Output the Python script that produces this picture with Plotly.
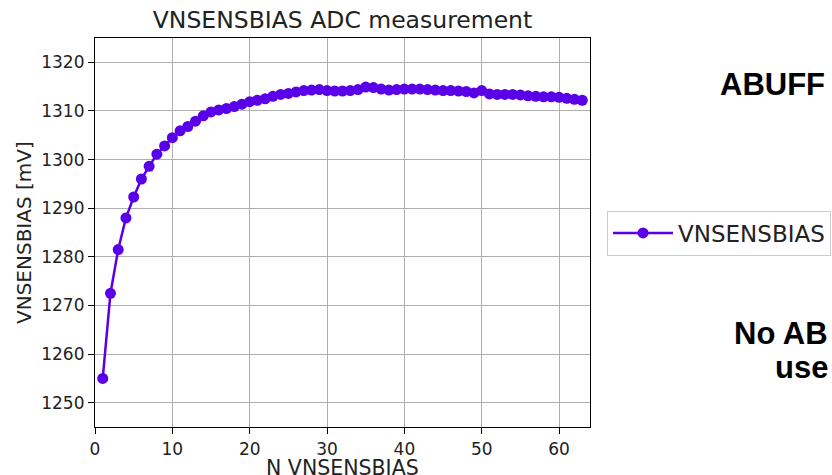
import plotly.graph_objects as go

n_vals = list(range(1, 64))
vnsensbias_mv = [
    1255.0, 1272.5, 1281.5, 1288.0, 1292.3, 1296.0, 1298.6, 1301.1, 1302.8, 1304.5,
    1305.9, 1306.8, 1307.9, 1309.0, 1309.8, 1310.2, 1310.5, 1310.9, 1311.4, 1311.9,
    1312.2, 1312.5, 1313.0, 1313.4, 1313.6, 1313.9, 1314.2, 1314.3, 1314.4, 1314.2,
    1314.1, 1314.1, 1314.2, 1314.4, 1314.9, 1314.8, 1314.5, 1314.3, 1314.4, 1314.5,
    1314.5, 1314.5, 1314.4, 1314.3, 1314.2, 1314.2, 1314.1, 1314.0, 1313.7, 1314.2,
    1313.5, 1313.4, 1313.4, 1313.4, 1313.3, 1313.1, 1313.0, 1312.9, 1312.9, 1312.8,
    1312.6, 1312.4, 1312.2,
]
x_ticks = [0, 10, 20, 30, 40, 50, 60]
y_ticks = [1250, 1260, 1270, 1280, 1290, 1300, 1310, 1320]

W, H = 832, 475
L, R, T, B = 95, 242, 38, 48
pw, ph = W - L - R, H - T - B

def px_x(p):
    return (p - L) / pw

def px_y(p):
    return (H - B - p) / ph

line_color = "#5a00e8"
font = "DejaVu Sans"
text_color = "#222222"

fig = go.Figure()
fig.add_trace(go.Scatter(
    x=n_vals, y=vnsensbias_mv, mode="lines+markers", name="VNSENSBIAS",
    line=dict(color=line_color, width=2.5),
    marker=dict(color=line_color, size=11),
))

axis_common = dict(
    showline=True, linecolor="black", linewidth=1.2, mirror=True,
    showgrid=True, gridcolor="#b0b0b0", gridwidth=1,
    ticks="outside", ticklen=6, tickwidth=1.2, tickcolor="black",
    tickfont=dict(family=font, size=17, color=text_color),
    zeroline=False, automargin=False,
)

fig.update_layout(
    width=W, height=H,
    margin=dict(l=L, r=R, t=T, b=B, autoexpand=False),
    paper_bgcolor="white", plot_bgcolor="white",
    title=dict(text="VNSENSBIAS ADC measurement", x=px_x(342.5), xref="paper",
               xanchor="center", y=1 - 20 / H, yref="container", yanchor="middle",
               font=dict(family=font, size=23.5, color=text_color)),
    xaxis=dict(range=[0, 64], tickvals=x_ticks, **axis_common),
    yaxis=dict(range=[1245, 1325], tickvals=y_ticks, **axis_common),
    showlegend=True,
    legend=dict(x=px_x(607), y=px_y(233), xanchor="left", yanchor="middle",
                bordercolor="#cccccc", borderwidth=1, bgcolor="white",
                itemwidth=60,
                font=dict(family=font, size=23, color=text_color)),
    annotations=[
        dict(text="N VNSENSBIAS", xref="paper", yref="paper", x=px_x(342.5), y=px_y(467.5),
             xanchor="center", yanchor="middle", showarrow=False,
             font=dict(family=font, size=20.5, color=text_color)),
        dict(text="VNSENSBIAS [mV]", xref="paper", yref="paper", x=px_x(23.5), y=px_y(232.5),
             xanchor="center", yanchor="middle", showarrow=False, textangle=-90,
             font=dict(family=font, size=20, color=text_color)),
        dict(text="<b>ABUFF</b>", xref="paper", yref="paper", x=px_x(827), y=px_y(85),
             xanchor="right", yanchor="middle", showarrow=False,
             font=dict(family="Liberation Sans", size=31, color="black")),
        dict(text="<b>No AB</b>", xref="paper", yref="paper", x=px_x(830), y=px_y(333),
             xanchor="right", yanchor="middle", showarrow=False,
             font=dict(family="Liberation Sans", size=31, color="black")),
        dict(text="<b>use</b>", xref="paper", yref="paper", x=px_x(830), y=px_y(367),
             xanchor="right", yanchor="middle", showarrow=False,
             font=dict(family="Liberation Sans", size=31, color="black")),
    ],
)

fig.write_html("out.html")
